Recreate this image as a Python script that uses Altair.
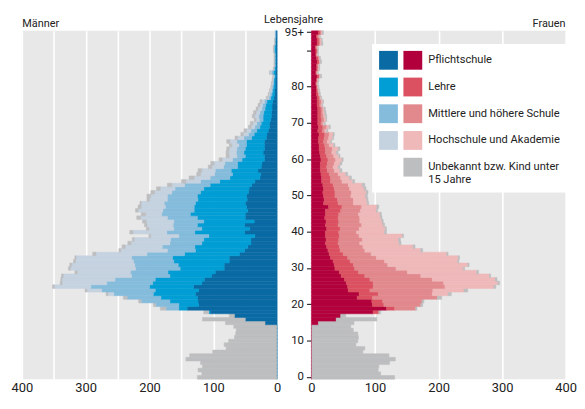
import altair as alt
import pandas as pd

FONT = "Roboto, Liberation Sans, sans-serif"
TXT = "#222222"

ages = list(range(96))
cats = ["Pflichtschule", "Lehre", "Mittlere und höhere Schule",
        "Hochschule und Akademie", "Unbekannt bzw. Kind unter 15 Jahre"]
men_colors = ["#0a6aa3", "#009ed5", "#85bcdc", "#c5d2e0", "#bdbec0"]
women_colors = ["#b1003b", "#db5161", "#e1898d", "#efb8b9", "#bdbec0"]

# cumulative boundaries (thousands), ages 0..95
# Männer
m_p = [0.7]*15 + [19, 50, 67, 105, 141,
       123, 124, 125, 128, 123, 131, 118, 114, 103, 97,
       83, 83, 75, 75, 59, 51, 46, 41, 41, 35,
       51, 43, 51, 36, 50, 50, 46, 48, 50, 47,
       48, 45, 44, 40, 35, 27, 26, 30, 25, 24,
       20, 20, 22, 20, 20, 20, 17, 16, 14, 12,
       12, 10, 9, 9, 8, 8, 7, 5, 4, 4,
       3, 3, 3, 2, 3, 2, 2, 2, 2, 2,
       2, 2, 2, 2, 2, 2]
m_pl = [0.7]*15 + [19, 50, 67, 107, 154,
        154, 168, 182, 194, 191, 200, 195, 191, 168, 171,
        152, 155, 162, 164, 145, 128, 129, 118, 115, 107,
        129, 118, 125, 115, 125, 136, 130, 130, 128, 124,
        125, 120, 115, 105, 90, 74, 70, 72, 62, 62,
        55, 50, 52, 50, 48, 48, 40, 36, 32, 27,
        25, 22, 22, 21, 19, 18, 16, 10, 8, 7,
        6, 5, 5, 4, 6, 4, 3, 3, 3, 3,
        4, 4, 3, 3, 2, 2]
m_plm = [0.7]*15 + [19, 50, 67, 107, 174,
         190, 213, 235, 256, 275, 292, 267, 254, 228, 230,
         222, 223, 225, 228, 204, 172, 180, 168, 167, 154,
         173, 162, 163, 162, 172, 181, 179, 175, 177, 172,
         172, 165, 160, 145, 120, 105, 98, 97, 84, 82,
         70, 63, 64, 63, 60, 63, 52, 45, 41, 35,
         32, 28, 29, 27, 24, 23, 20, 13, 11, 9,
         8, 7, 6, 5, 9, 5, 4, 4, 4, 4,
         5, 5, 3, 3, 3, 3]
m_plmh = [0.7]*15 + [19, 50, 67, 107, 174,
          190, 213, 235, 265, 298, 349, 337, 337, 335, 313,
          324, 322, 316, 315, 284, 245, 238, 229, 224, 198,
          226, 201, 204, 205, 214, 206, 218, 213, 213, 200,
          198, 192, 183, 165, 143, 130, 120, 118, 102, 99,
          86, 75, 76, 75, 71, 74, 62, 53, 48, 41,
          38, 33, 35, 33, 30, 27, 24, 15, 13, 11,
          9, 8, 7, 6, 11, 5, 4, 4, 4, 4,
          5, 5, 3, 3, 3, 3]
m_tot = [125, 118, 124, 117, 120, 143, 137, 101, 80, 83, 76, 67, 65, 64, 68,
         81, 117, 75, 115, 183,
         194, 217, 241, 268, 301, 352, 340, 339, 338, 317,
         327, 325, 319, 317, 289, 248, 243, 234, 227, 201,
         231, 205, 208, 211, 220, 213, 222, 218, 215, 204,
         204, 198, 189, 172, 150, 138, 126, 124, 108, 104,
         91, 80, 80, 79, 75, 79, 66, 57, 52, 45,
         42, 36, 39, 37, 33, 30, 27, 17, 14, 12,
         10, 9, 8, 7, 12, 6, 5, 5, 5, 5,
         6, 6, 4, 4, 3, 3]

# Frauen
f_p = [0.7]*15 + [11, 39, 46, 97, 118,
       96, 95, 72, 75, 58, 57, 55, 52, 47, 44,
       37, 36, 34, 30, 28, 26, 24, 22, 23, 22,
       22, 24, 22, 23, 21, 22, 22, 27, 19, 20,
       19, 18, 19, 18, 16, 16, 15, 14, 14, 14,
       15, 14, 13, 12, 12, 11, 11, 12, 10, 11,
       10, 10, 10, 10, 10, 9, 9, 9, 8, 8,
       8, 7, 8, 9, 7, 8, 8, 9, 8, 7,
       7, 6, 9, 9, 8, 11]
f_pl = [0.7]*15 + [11, 39, 46, 106, 131,
        114, 112, 96, 105, 92, 97, 97, 92, 84, 74,
        68, 66, 61, 57, 50, 45, 44, 42, 43, 44,
        43, 45, 42, 43, 42, 43, 46, 48, 42, 41,
        37, 37, 36, 34, 30, 30, 28, 25, 24, 25,
        26, 24, 22, 22, 21, 19, 20, 21, 17, 18,
        15, 16, 15, 15, 15, 13, 13, 12, 11, 10,
        9, 8, 9, 12, 8, 10, 10, 12, 11, 8,
        9, 8, 12, 12, 10, 14]
f_plm = [0.7]*15 + [11, 39, 46, 106, 164,
         172, 174, 198, 190, 191, 210, 208, 190, 172, 151,
         133, 120, 115, 102, 94, 84, 81, 76, 80, 75,
         71, 75, 79, 76, 76, 74, 77, 79, 66, 66,
         62, 63, 60, 58, 48, 46, 42, 36, 34, 36,
         38, 35, 32, 33, 28, 25, 27, 28, 21, 24,
         18, 20, 19, 18, 18, 15, 16, 14, 12, 11,
         10, 9, 10, 13, 9, 11, 11, 13, 12, 9,
         10, 9, 14, 14, 12, 16]
f_plmh = [0.7]*15 + [11, 39, 46, 106, 164,
          172, 174, 198, 215, 240, 287, 293, 289, 280, 260,
          239, 246, 230, 231, 213, 172, 160, 138, 137, 143,
          115, 116, 113, 111, 109, 108, 102, 103, 88, 87,
          85, 86, 83, 80, 65, 60, 54, 45, 42, 45,
          48, 43, 39, 42, 35, 30, 33, 34, 24, 28,
          20, 23, 22, 21, 20, 17, 18, 15, 13, 12,
          11, 10, 11, 14, 10, 12, 12, 14, 13, 10,
          10, 10, 16, 16, 13, 17]
f_tot = [131, 109, 105, 106, 123, 132, 122, 81, 84, 70, 73, 74, 73, 66, 62,
         67, 103, 54, 109, 166,
         175, 177, 205, 220, 246, 290, 296, 292, 282, 263,
         241, 248, 232, 233, 215, 175, 163, 141, 140, 145,
         118, 118, 115, 113, 111, 110, 104, 106, 90, 89,
         88, 89, 86, 84, 68, 63, 57, 48, 45, 48,
         50, 45, 42, 45, 37, 32, 35, 36, 26, 30,
         22, 24, 24, 23, 22, 18, 19, 16, 14, 13,
         12, 11, 12, 16, 11, 13, 13, 16, 14, 11,
         11, 11, 18, 17, 14, 19]


def build(cums):
    rows = []
    for i, a in enumerate(ages):
        prev = 0
        for k, c in enumerate(cats):
            cur = cums[k][i]
            if cur > prev:
                rows.append({"age": a, "cat": c, "start": prev, "end": cur})
                prev = cur
    return pd.DataFrame(rows)


df_m = build([m_p, m_pl, m_plm, m_plmh, m_tot])
df_f = build([f_p, f_pl, f_plm, f_plmh, f_tot])

W_L, W_R, H = 258, 257, 352
GAP = 34.6
grid_vals = list(range(0, 401, 50))
label_expr_x = "datum.value % 100 === 0 ? datum.label : ''"
UNK = "Unbekannt bzw. Kind unter 15 Jahre"
unk_expr_w = f"datum.label == '{UNK}' ? ['Unbekannt bzw. Kind unter', '15 Jahre'] : datum.label"
# men's legend keys differ (trailing space) so the two legends stay separate
cats_m_leg = [c + " " for c in cats]
unk_expr_m = f"datum.label == '{UNK} ' ? ['Unbekannt bzw. Kind unter', '15 Jahre'] : datum.label"

LEG_FS = 11.2


def x_axis(title, tx, align):
    return alt.Axis(values=grid_vals, labelExpr=label_expr_x, grid=True,
                    gridColor="white", gridWidth=1.6, ticks=False, tickSize=0,
                    domain=False, labelFontSize=13, labelPadding=2,
                    labelColor=TXT, labelFlush=False, labelOverlap=False,
                    title=title, titleX=tx, titleY=-(H + 4.7), titleAlign=align,
                    titleBaseline="alphabetic", titleAngle=0,
                    titleFontSize=11, titleFontWeight="normal",
                    titleColor=TXT)


y_scale = alt.Scale(paddingInner=0, paddingOuter=0)

left = alt.Chart(df_m).mark_bar(strokeWidth=0.5).encode(
    x=alt.X("start:Q", scale=alt.Scale(domain=[0, 400], reverse=True, nice=False),
            axis=x_axis("Männer", 0, "left")),
    x2="end:Q",
    y=alt.Y("age:O", sort="descending", scale=y_scale, axis=None),
    color=alt.Color("cat:N", scale=alt.Scale(domain=cats, range=men_colors), legend=None),
    stroke=alt.Stroke("cat:N", scale=alt.Scale(domain=cats, range=men_colors), legend=None),
).properties(width=W_L, height=H)

legend_m = alt.Chart(df_m).transform_filter("datum.age < 0").mark_bar().encode(
    x="start:Q",
    x2="end:Q",
    y=alt.Y("age:O", sort="descending"),
    color=alt.Color("cat:N",
                    scale=alt.Scale(domain=cats_m_leg, range=men_colors[:4] + ["white"]),
                    legend=alt.Legend(orient="none", legendX=61.4, legendY=13.3,
                                      title=None, symbolType="square", symbolSize=361,
                                      symbolStrokeWidth=0, symbolOpacity=1,
                                      labelOpacity=0, labelOffset=30.6,
                                      labelFontSize=LEG_FS, labelLimit=0, rowPadding=8,
                                      padding=7, fillColor="white",
                                      labelExpr=unk_expr_m, direction="vertical")),
)

right_bars = alt.Chart(df_f).mark_bar(strokeWidth=0.5).encode(
    x=alt.X("start:Q", scale=alt.Scale(domain=[0, 400], nice=False),
            axis=x_axis("Frauen", W_R - 0.6, "right")),
    x2="end:Q",
    y=alt.Y("age:O", sort="descending", scale=y_scale,
            axis=alt.Axis(values=[0, 10, 20, 30, 40, 50, 60, 70, 80, 90, 95],
                          labelExpr="datum.value == 95 ? '95+' : (datum.value == 90 ? '' : datum.label)",
                          ticks=True, tickSize=5, tickColor="#333333", tickWidth=1.2,
                          domain=False, grid=False, labelFontSize=11.5,
                          labelPadding=3, labelColor=TXT,
                          title="Lebensjahre", titleAngle=0, titleX=-18.6,
                          titleY=-8.5, titleAlign="center",
                          titleBaseline="alphabetic", titleFontSize=11,
                          titleFontWeight="normal", titleColor=TXT)),
    fill=alt.Fill("cat:N", scale=alt.Scale(domain=cats, range=women_colors),
                  legend=alt.Legend(orient="none", legendX=93, legendY=20.3,
                                    title=None, symbolType="square", symbolSize=361,
                                    symbolStrokeWidth=0, symbolOpacity=1,
                                    labelOffset=6, labelFontSize=LEG_FS, labelLimit=0,
                                    labelColor=TXT, rowPadding=8, padding=0,
                                    labelExpr=unk_expr_w, direction="vertical")),
    stroke=alt.Stroke("cat:N", scale=alt.Scale(domain=cats, range=women_colors), legend=None),
)

right = alt.layer(legend_m, right_bars).properties(width=W_R, height=H)

chart = alt.HConcatChart(hconcat=[left, right], spacing=GAP, bounds="flush").resolve_scale(
    color="independent", fill="independent", stroke="independent"
).resolve_legend(
    color="independent", fill="independent"
).properties(
    padding={"left": 3, "top": 3, "right": 0, "bottom": 0}
).configure(font=FONT).configure_view(
    fill="#e8e8e8", strokeWidth=0
).configure_axis(labelFont=FONT, titleFont=FONT).configure_legend(labelFont=FONT)

chart.save("out.html", embed_options={"renderer": "svg", "actions": False})
